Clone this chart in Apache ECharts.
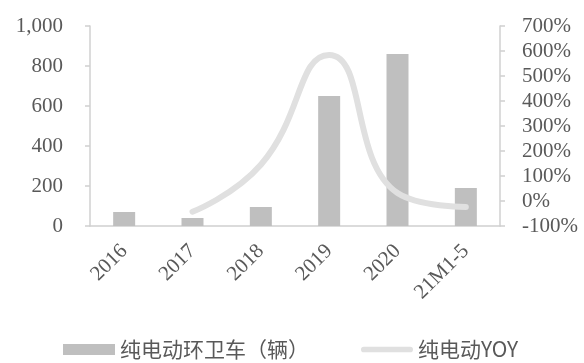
<!DOCTYPE html>
<html>
<head>
  <meta charset="utf-8">
  <title>纯电动环卫车</title>
  <script src="https://cdn.jsdelivr.net/npm/echarts@6/dist/echarts.min.js"></script>
</head>
<body style="margin:0">
  <div id="main" style="width:584px;height:363px;"></div>
  <script type="text/javascript">
    var years = ['2016', '2017', '2018', '2019', '2020', '21M1-5'];
    // 纯电动环卫车（辆）
    var sales = [70, 40, 95, 650, 860, 190];
    // 纯电动YOY, in %
    var yoy = [null, -43, 145, 584, 32, -24];

    var serif = '"Liberation Serif", "Times New Roman", serif';
    var textColor = '#595959';
    var axisColor = '#d0d0d0';

    var myChart = echarts.init(document.getElementById('main'));
    var option = {
      animation: false,
      grid: {
        left: 90,
        right: 84,
        top: 26,
        bottom: 137
      },
      legend: {
        top: 334,
        left: 58,
        itemGap: 52,
        itemWidth: 52,
        itemHeight: 11,
        textStyle: { fontFamily: '"Noto Sans CJK SC", serif', fontSize: 21, color: textColor },
        data: [
          { name: '纯电动环卫车（辆）', icon: 'rect' },
          { name: '纯电动YOY', icon: 'path://M3,0H52A3,3 0 0 1 52,6H3A3,3 0 0 1 3,0Z' }
        ]
      },
      xAxis: {
        type: 'category',
        data: years,
        axisLine: { lineStyle: { color: axisColor, width: 1.5 } },
        axisTick: { length: 5, lineStyle: { color: axisColor, width: 1.5 } },
        axisLabel: {
          rotate: 45,
          margin: 22,
          fontFamily: serif,
          fontSize: 21,
          color: textColor
        }
      },
      yAxis: [
        {
          type: 'value',
          min: 0,
          max: 1000,
          interval: 200,
          splitLine: { show: false },
          axisLine: { show: true, lineStyle: { color: axisColor, width: 1.5 } },
          axisTick: { show: true, length: 5, lineStyle: { color: axisColor, width: 1.5 } },
          axisLabel: {
            margin: 27,
            fontFamily: serif,
            fontSize: 21,
            color: textColor,
            formatter: function (v) {
              return v >= 1000 ? Math.floor(v / 1000) + ',' + ('00' + (v % 1000)).slice(-3) : String(v);
            }
          }
        },
        {
          type: 'value',
          min: -100,
          max: 700,
          interval: 100,
          splitLine: { show: false },
          axisLine: { show: true, lineStyle: { color: axisColor, width: 1.5 } },
          axisTick: { show: true, length: 5, lineStyle: { color: axisColor, width: 1.5 } },
          axisLabel: {
            margin: 22,
            fontFamily: serif,
            fontSize: 21,
            color: textColor,
            formatter: '{value}%'
          }
        }
      ],
      series: [
        {
          name: '纯电动环卫车（辆）',
          type: 'bar',
          barWidth: 22,
          itemStyle: { color: '#bfbfbf' },
          data: sales
        },
        {
          name: '纯电动YOY',
          type: 'line',
          yAxisIndex: 1,
          smooth: 0.5,
          showSymbol: false,
          symbol: 'none',
          lineStyle: { color: '#e0e0e0', width: 6, cap: 'round' },
          itemStyle: { color: '#e0e0e0' },
          data: yoy
        }
      ]
    };
    myChart.setOption(option);
  </script>
</body>
</html>
